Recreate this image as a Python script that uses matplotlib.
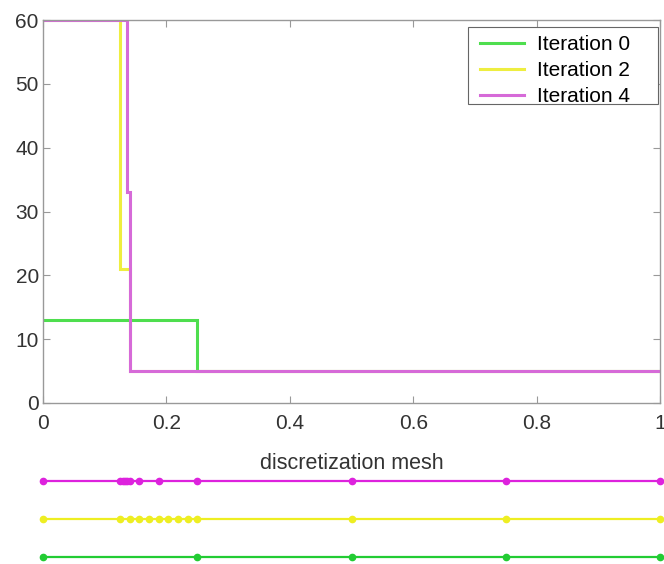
import matplotlib
matplotlib.use("Agg")
import matplotlib.pyplot as plt
from matplotlib.patches import Rectangle

plt.rcParams['font.family'] = ['Liberation Sans', 'DejaVu Sans']

# Piecewise-constant solution on each refined mesh (cell edges and cell values)
mesh_it0 = [0, 0.25, 0.5, 0.75, 1.0]
vals_it0 = [13, 5, 5, 5]

mesh_it2 = [0, 0.125, 0.140625, 0.15625, 0.171875, 0.1875, 0.203125,
            0.21875, 0.234375, 0.25, 0.5, 0.75, 1.0]
vals_it2 = [60, 21, 5, 5, 5, 5, 5, 5, 5, 5, 5, 5]

mesh_it4 = [0, 0.125, 0.12890625, 0.1328125, 0.13671875, 0.140625,
            0.15625, 0.1875, 0.25, 0.5, 0.75, 1.0]
vals_it4 = [60, 60, 60, 60, 33, 5, 5, 5, 5, 5, 5]

labels = ['Iteration 0', 'Iteration 2', 'Iteration 4']
colors = ['#4ede4e', '#eeee40', '#d66ad8']
mesh_colors = ['#22cc33', '#eeee22', '#dd22dd']

meshes = [mesh_it0, mesh_it2, mesh_it4]
values = [vals_it0, vals_it2, vals_it4]

W, H = 664, 564
fig = plt.figure(figsize=(W / 100, H / 100), dpi=100)


def fig_box(left, top, right, bottom):
    """Convert a pixel box (from the top-left corner) to figure fractions."""
    return [left / W, 1 - bottom / H, (right - left) / W, (bottom - top) / H]


# Main axes: solution profiles
ax = fig.add_axes(fig_box(43, 20, 660, 403))
for m, v, c, lab in zip(meshes, values, colors, labels):
    ax.stairs(v, m, color=c, lw=2.2, label=lab, baseline=None)

ax.set_xlim(0, 1)
ax.set_ylim(0, 60)
ax.set_xticks([0, 0.2, 0.4, 0.6, 0.8, 1.0])
ax.set_xticklabels(['0', '0.2', '0.4', '0.6', '0.8', '1'])
ax.set_yticks(range(0, 61, 10))
for s in ax.spines.values():
    s.set_color('#999999')
    s.set_linewidth(1.0)
ax.tick_params(direction='in', length=5, color='#999999', top=True, right=True,
               labelsize=15, labelcolor='#333333')
ax.tick_params(axis='y', pad=3)
ax.tick_params(axis='x', pad=8)
ax.set_xlabel('discretization mesh', fontsize=15.5, color='#333333', labelpad=14)

# Legend: entries placed without their own frame, boxed by a plain rectangle
fl, fb, fw, fh = fig_box(468, 27, 658, 104)
ax.add_patch(Rectangle((fl, fb), fw, fh, transform=fig.transFigure,
                       facecolor='white', edgecolor='#666666', lw=0.8,
                       zorder=4, clip_on=False))
leg = ax.legend(loc='upper left', bbox_to_anchor=(480 / W, 1 - 35 / H),
                bbox_transform=fig.transFigure, borderaxespad=0, borderpad=0,
                fontsize=15, frameon=False, handlelength=2.1,
                labelspacing=0.34, handletextpad=0.65)
leg.set_zorder(5)

# Lower axes: mesh nodes of each iteration
ax2 = fig.add_axes(fig_box(43, 462, 660, 564))
rows = [1, 2, 3]
for m, c, r in zip(meshes, mesh_colors, rows):
    ax2.plot(m, [r] * len(m), '-', color=c, lw=1.6, marker='o', ms=4.5,
             clip_on=False)
ax2.set_xlim(0, 1)
ax2.set_ylim(3.5 - 102 / 38, 3.5)
ax2.axis('off')

fig.savefig('out.png', dpi=100)
